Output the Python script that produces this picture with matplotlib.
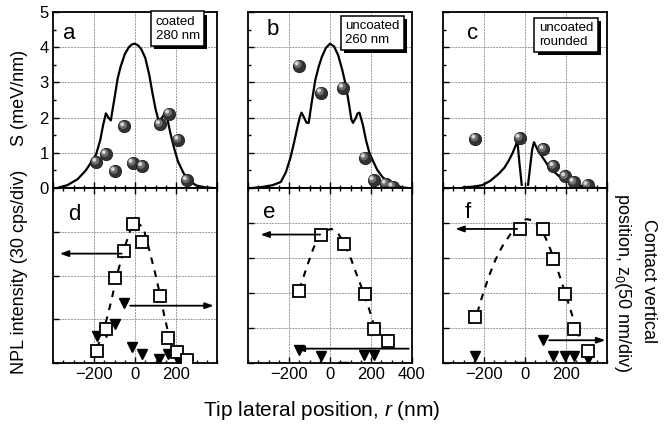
import matplotlib
matplotlib.use("Agg")
import matplotlib.pyplot as plt
import matplotlib.transforms as mtransforms
import matplotlib.patheffects as pe
from matplotlib.ticker import MultipleLocator, FixedLocator, NullFormatter

plt.rcParams['font.family'] = ['Liberation Sans', 'DejaVu Sans']
plt.rcParams['mathtext.fontset'] = 'custom'
plt.rcParams['mathtext.rm'] = 'Liberation Sans'
plt.rcParams['mathtext.it'] = 'Liberation Sans:italic'

# ---------------- data: top row (S, meV/nm) ----------------
curve_a_x = [-380, -330, -280, -240, -215, -190, -170, -155, -142, -130, -118, -100, -85, -70, -50, -30, -15, 0, 15, 30, 50, 70, 85, 100, 112, 120, 132, 147, 160, 175, 190, 210, 237, 260, 300, 340, 380]
curve_a_y = [0.0, 0.08, 0.25, 0.5, 0.72, 0.95, 1.35, 1.8, 2.12, 2.0, 1.92, 2.55, 3.1, 3.45, 3.8, 4.0, 4.08, 4.1, 4.05, 3.95, 3.7, 3.2, 2.7, 2.25, 1.98, 1.92, 2.0, 2.13, 1.9, 1.5, 1.15, 0.75, 0.42, 0.22, 0.07, 0.02, 0.0]
balls_a_x = [-188, -142, -98, -52, -11, 36, 122, 167, 212, 253]
balls_a_y = [0.74, 0.96, 0.48, 1.75, 0.71, 0.62, 1.81, 2.11, 1.37, 0.22]

curve_b_x = [-380, -330, -280, -240, -215, -192, -175, -160, -148, -139, -128, -115, -104, -90, -72, -55, -40, -20, 0, 20, 40, 60, 77, 95, 104, 112, 125, 135, 144, 160, 176, 192, 208, 230, 256, 290, 320, 350, 380]
curve_b_y = [0.0, 0.03, 0.08, 0.17, 0.45, 0.88, 1.3, 1.7, 2.0, 2.14, 2.02, 1.86, 1.85, 2.4, 3.06, 3.45, 3.72, 3.98, 4.1, 4.02, 3.77, 3.35, 2.92, 2.3, 1.95, 1.85, 1.98, 2.12, 2.14, 1.8, 1.35, 1.0, 0.79, 0.52, 0.31, 0.15, 0.08, 0.02, 0.0]
balls_b_x = [-152, -43, 64, 171, 213, 272, 305]
balls_b_y = [3.48, 2.71, 2.85, 0.86, 0.22, 0.12, 0.04]

curve_c_left_x = [-300, -250, -209, -170, -127, -100, -78, -60, -46, -37, -27, -16]
curve_c_left_y = [0.02, 0.04, 0.08, 0.2, 0.41, 0.58, 0.79, 1.0, 1.2, 1.33, 0.7, 0.09]
curve_c_right_x = [15, 25, 35, 44, 60, 85, 110, 134, 165, 199, 240, 281, 320, 350]
curve_c_right_y = [0.09, 0.6, 1.1, 1.3, 1.1, 0.88, 0.66, 0.5, 0.34, 0.22, 0.11, 0.05, 0.01, 0.0]
balls_c_x = [-242, -26, 90, 139, 196, 237, 305]
balls_c_y = [1.40, 1.42, 1.10, 0.62, 0.33, 0.17, 0.08]

# ---------------- data: bottom row (NPL intensity, grid divisions) ----------------
sq_d_x = [-187, -141, -98, -54, -10, 34, 122, 162, 206, 252]
sq_d_y = [0.27, 0.78, 1.94, 2.57, 3.17, 2.76, 1.54, 0.58, 0.26, 0.08]
fit_d_x = [-186, -163, -139, -114, -90, -65, -41, -16, 0, 8, 41, 65, 98, 122, 147, 171, 196, 229]
fit_d_y = [0.34, 0.61, 0.99, 1.45, 1.98, 2.40, 2.78, 3.13, 3.22, 3.22, 3.09, 2.67, 2.06, 1.56, 0.99, 0.53, 0.27, 0.11]
tri_d_x = [-187, -141, -97, -54, -13, 33, 119, 162, 208, 255]
tri_d_y = [0.62, 0.72, 0.89, 1.37, 0.37, 0.20, 0.10, 0.21, 0.07, 0.03]
arrows_d = [(-65, 2.50, -367, 2.50), (-24, 1.31, 384, 1.31)]

sq_e_x = [-149, -43, 69, 171, 213, 282]
sq_e_y = [2.05, 3.67, 3.40, 1.98, 0.97, 0.64]
fit_e_x = [-149, -128, -104, -80, -56, -24, 8, 40, 72, 104, 136, 168, 192, 216]
fit_e_y = [2.10, 2.48, 2.90, 3.29, 3.57, 3.79, 3.83, 3.70, 3.38, 2.95, 2.43, 1.95, 1.52, 1.05]
tri_e_x = [-152, -43, 64, 168, 213]
tri_e_y = [0.38, 0.19, -0.12, 0.22, 0.22]
arrows_e = [(-48, 3.67, -339, 3.67), (384, 0.41, -168, 0.41)]

sq_f_x = [-242, -24, 90, 139, 196, 237, 309]
sq_f_y = [1.31, 3.83, 3.83, 2.98, 1.98, 0.98, 0.33]
fit_f_x = [-233, -209, -176, -144, -111, -78, -46, -21, 7, 36, 69, 101, 134, 167, 199, 232, 264]
fit_f_y = [1.43, 1.90, 2.48, 2.95, 3.33, 3.62, 3.90, 4.05, 4.11, 4.08, 3.90, 3.57, 3.10, 2.52, 1.95, 1.33, 0.76]
tri_f_x = [-242, -21, 90, 139, 196, 237, 305]
tri_f_y = [0.19, -0.12, 0.65, 0.19, 0.19, 0.19, 0.12]
arrows_f = [(-38, 3.83, -340, 3.83), (118, 0.65, 392, 0.65)]

panel_letters = ['a', 'b', 'c', 'd', 'e', 'f']
box_texts = ['coated\n280 nm', 'uncoated\n260 nm', 'uncoated\nrounded']
xtick_sets = [[-200, 0, 200], [-200, 0, 200, 400], [-200, 0, 200]]
ylim_bottom = [4, 5, 5]

# ---------------- figure ----------------
W, H = 670, 426
fig = plt.figure(figsize=(W / 100, H / 100), dpi=100)
lefts = [53, 248, 443]
pw = 164
top_y0, top_y1 = 12, 188
bot_y0, bot_y1 = 188, 363

def rect(x0, y0, x1, y1):
    return [x0 / W, 1 - y1 / H, (x1 - x0) / W, (y1 - y0) / H]

axes_top = [fig.add_axes(rect(l, top_y0, l + pw, top_y1)) for l in lefts]
axes_bot = [fig.add_axes(rect(l, bot_y0, l + pw, bot_y1)) for l in lefts]

grid_kw = dict(color='#9a9a9a', linestyle=(0, (2, 1)), linewidth=0.7)

def style(ax):
    ax.set_xlim(-400, 400)
    ax.xaxis.set_major_locator(MultipleLocator(200))
    ax.xaxis.set_minor_locator(MultipleLocator(50))
    ax.tick_params(which='both', direction='in', top=False, right=False,
                   labelsize=12, width=1.0, pad=3)
    ax.tick_params(which='major', length=4)
    ax.tick_params(which='minor', length=2.5)
    for s in ax.spines.values():
        s.set_linewidth(1.3)
    ax.grid(True, axis='y', which='major', **grid_kw)
    ax.set_axisbelow(True)
    for gx in [-200, 0, 200]:
        ax.axvline(gx, zorder=0.5, **grid_kw)

def balls(ax, x, y):
    ax.scatter(x, y, s=78, c='#333333', edgecolors='#1a1a1a', linewidths=0.6, zorder=4, clip_on=False)
    t1 = mtransforms.offset_copy(ax.transData, fig=fig, x=-0.9, y=0.9, units='points')
    ax.scatter(x, y, s=32, c='#6e6e6e', edgecolors='none', zorder=5, transform=t1, clip_on=False)
    t2 = mtransforms.offset_copy(ax.transData, fig=fig, x=-1.5, y=1.5, units='points')
    ax.scatter(x, y, s=8, c='#d8d8d8', edgecolors='none', zorder=6, transform=t2, clip_on=False)

top_curves = [[(curve_a_x, curve_a_y)], [(curve_b_x, curve_b_y)],
              [(curve_c_left_x, curve_c_left_y), (curve_c_right_x, curve_c_right_y)]]
top_balls = [(balls_a_x, balls_a_y), (balls_b_x, balls_b_y), (balls_c_x, balls_c_y)]
letter_pos_top = [(0.10, 0.88), (0.15, 0.90), (0.18, 0.88)]
box_pos = [(0.76, 0.905), (0.76, 0.88), (0.75, 0.87)]

for i, ax in enumerate(axes_top):
    style(ax)
    ax.set_ylim(0, 5)
    ax.yaxis.set_major_locator(MultipleLocator(1))
    ax.yaxis.set_minor_locator(MultipleLocator(0.5))
    ax.xaxis.set_major_formatter(NullFormatter())
    if i > 0:
        ax.yaxis.set_major_formatter(NullFormatter())
    for cx, cy in top_curves[i]:
        ax.plot(cx, cy, color='black', lw=1.6, zorder=3)
    balls(ax, *top_balls[i])
    ax.text(*letter_pos_top[i], panel_letters[i], transform=ax.transAxes,
            fontsize=16, ha='center', va='center')
    t = ax.text(*box_pos[i], box_texts[i], transform=ax.transAxes, fontsize=9.5,
                ha='center', va='center', multialignment='left', zorder=7,
                bbox=dict(boxstyle='square,pad=0.33', fc='white', ec='black', lw=1.1))
    t.get_bbox_patch().set_path_effects([
        pe.SimplePatchShadow(offset=(2.2, -2.2), shadow_rgbFace='black', alpha=1.0),
        pe.Normal()])

sq_sets = [(sq_d_x, sq_d_y), (sq_e_x, sq_e_y), (sq_f_x, sq_f_y)]
fit_sets = [(fit_d_x, fit_d_y), (fit_e_x, fit_e_y), (fit_f_x, fit_f_y)]
tri_sets = [(tri_d_x, tri_d_y), (tri_e_x, tri_e_y), (tri_f_x, tri_f_y)]
arrow_sets = [arrows_d, arrows_e, arrows_f]
letter_pos_bot = [(0.13, 0.85), (0.13, 0.86), (0.15, 0.86)]

for i, ax in enumerate(axes_bot):
    style(ax)
    ax.set_ylim(0, ylim_bottom[i])
    ax.yaxis.set_major_locator(MultipleLocator(1))
    ax.yaxis.set_minor_locator(FixedLocator([]))
    ax.yaxis.set_major_formatter(NullFormatter())
    ax.xaxis.set_major_locator(FixedLocator(xtick_sets[i]))
    ax.tick_params(axis='x', which='both', top=True)
    fx, fy = fit_sets[i]
    ax.plot(fx, fy, color='black', lw=1.5, ls=(0, (3.2, 3.2)), zorder=3)
    tx, ty = tri_sets[i]
    ax.plot(tx, ty, ls='none', marker='v', ms=6.5, color='black', zorder=4)
    sx, sy = sq_sets[i]
    ax.plot(sx, sy, ls='none', marker='s', ms=9, mfc='white', mec='black', mew=1.3, zorder=5)
    for (x0, y0, x1, y1) in arrow_sets[i]:
        ax.annotate('', xy=(x1, y1), xytext=(x0, y0), zorder=6,
                    arrowprops=dict(arrowstyle='-|>,head_length=0.5,head_width=0.18',
                                    color='black', lw=1.3, shrinkA=0, shrinkB=0))
    ax.text(*letter_pos_bot[i], panel_letters[3 + i], transform=ax.transAxes,
            fontsize=16, ha='center', va='center')

fig.text(20 / W, 1 - 98 / H, 'S (meV/nm)', rotation=90, fontsize=13, ha='center', va='center')
fig.text(20 / W, 1 - 272 / H, 'NPL intensity (30 cps/div)', rotation=90, fontsize=13, ha='center', va='center')
fig.text(648 / W, 1 - 281 / H, 'Contact vertical', rotation=270, fontsize=13, ha='center', va='center')
fig.text(623 / W, 1 - 283 / H, 'position, z$_0$(50 nm/div)', rotation=270, fontsize=13, ha='center', va='center')
fig.text(322 / W, 1 - 410 / H, 'Tip lateral position, $\\mathit{r}$ (nm)', fontsize=15, ha='center', va='center')

fig.savefig('out.png', dpi=100)
